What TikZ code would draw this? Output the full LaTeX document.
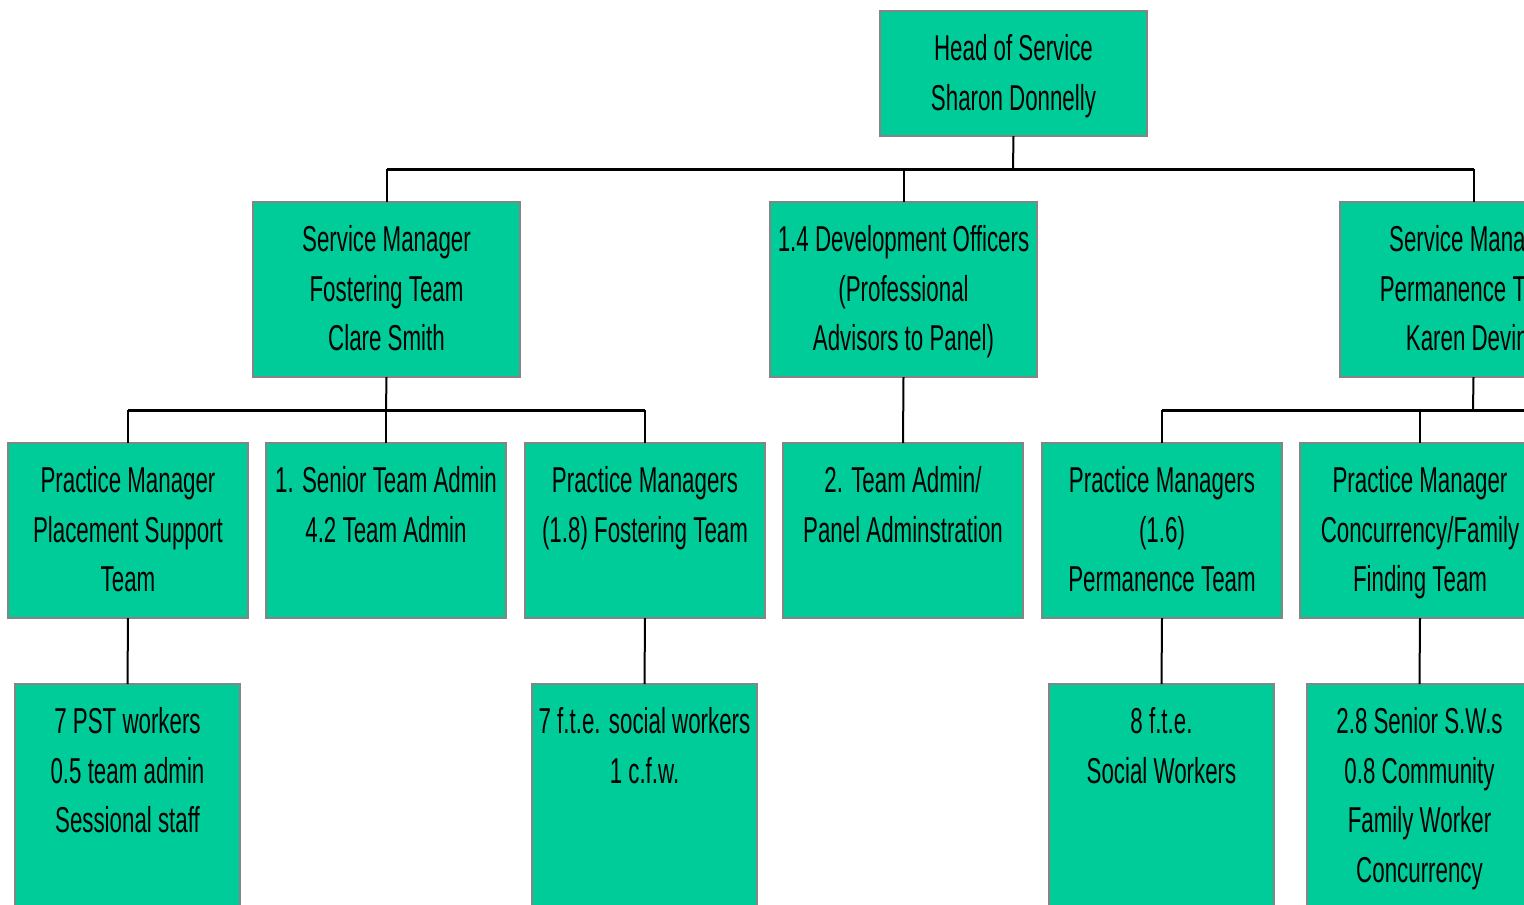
\documentclass[tikz,border=0pt]{standalone}
\usepackage{fontspec}
\setmainfont{Liberation Sans}[FakeStretch=0.62]
\definecolor{boxfill}{HTML}{00CC99}
\definecolor{boxline}{HTML}{858585}
\newcommand{\fst}{\rule{0pt}{28pt}}
\begin{document}
\begin{tikzpicture}[x=1pt,y=-1pt,
  orgbox/.style={draw=boxline, line width=2.5pt, fill=boxfill, inner sep=0pt, outer sep=0pt, anchor=north west},
  lbl/.style={anchor=north, inner sep=0pt, align=center, font=\fontsize{36}{49.5}\selectfont},
  conn/.style={line width=2pt, black},
  bus/.style={line width=3pt, black}]
\useasboundingbox (0,0) rectangle (1524,905);
\clip (0,0) rectangle (1524,905);
% boxes
\node[orgbox, minimum width=267pt, minimum height=125pt] (head) at (880,11) {};
\node[orgbox, minimum width=267pt, minimum height=175pt] (sm1) at (253,202) {};
\node[orgbox, minimum width=267pt, minimum height=175pt] (dev) at (770,202) {};
\node[orgbox, minimum width=267pt, minimum height=175pt] (sm2) at (1340,202) {};
\node[orgbox, minimum width=240pt, minimum height=175pt] (pm1) at (8,443) {};
\node[orgbox, minimum width=240pt, minimum height=175pt] (sta) at (266,443) {};
\node[orgbox, minimum width=240pt, minimum height=175pt] (pm2) at (525,443) {};
\node[orgbox, minimum width=240pt, minimum height=175pt] (ta) at (783,443) {};
\node[orgbox, minimum width=240pt, minimum height=175pt] (pm3) at (1042,443) {};
\node[orgbox, minimum width=240pt, minimum height=175pt] (pm4) at (1300,443) {};
\node[orgbox, minimum width=225pt, minimum height=260pt] (w1) at (15,684) {};
\node[orgbox, minimum width=225pt, minimum height=260pt] (w2) at (532,684) {};
\node[orgbox, minimum width=225pt, minimum height=260pt] (w3) at (1049,684) {};
\node[orgbox, minimum width=225pt, minimum height=260pt] (w4) at (1307,684) {};
% texts
\node[lbl] (headt) at ([yshift=-21.5pt]head.north) {\fst Head of Service\\Sharon Donnelly};
\node[lbl] (sm1t) at ([yshift=-21.5pt]sm1.north) {\fst Service Manager\\Fostering Team\\Clare Smith};
\node[lbl] (devt) at ([yshift=-21.5pt]dev.north) {\fst 1.4 Development Officers\\(Professional\\Advisors to Panel)};
\node[lbl] (sm2t) at ([yshift=-21.5pt]sm2.north) {\fst Service Manager\\Permanence Team\\Karen Devine};
\node[lbl] (pm1t) at ([yshift=-21.5pt]pm1.north) {\fst Practice Manager\\Placement Support\\Team};
\node[lbl] (stat) at ([yshift=-21.5pt]sta.north) {\fst 1. Senior Team Admin\\4.2 Team Admin};
\node[lbl] (pm2t) at ([yshift=-21.5pt]pm2.north) {\fst Practice Managers\\(1.8) Fostering Team};
\node[lbl] (tat) at ([yshift=-21.5pt]ta.north) {\fst 2. Team Admin/\\Panel Adminstration};
\node[lbl] (pm3t) at ([yshift=-21.5pt]pm3.north) {\fst Practice Managers\\(1.6)\\Permanence Team};
\node[lbl] (pm4t) at ([yshift=-21.5pt]pm4.north) {\fst Practice Manager\\Concurrency/Family\\Finding Team};
\node[lbl] (w1t) at ([yshift=-21.5pt]w1.north) {\fst 7 PST workers\\0.5 team admin\\Sessional staff};
\node[lbl] (w2t) at ([yshift=-21.5pt]w2.north) {\fst 7 f.t.e. social workers\\1 c.f.w.};
\node[lbl] (w3t) at ([yshift=-21.5pt]w3.north) {\fst 8 f.t.e.\\Social Workers};
\node[lbl] (w4t) at ([yshift=-21.5pt]w4.north) {\fst 2.8 Senior S.W.s\\0.8 Community\\Family Worker\\Concurrency};
% connectors
\coordinate (b1) at (1013,169);
\coordinate (b2) at (386,410);
\coordinate (b3) at (1473,410);
\coordinate (b3e) at (1600,410);
\draw[conn] (head.south) -- (b1);
\draw[bus] (sm1.north |- b1) -- (sm2.north |- b1);
\draw[conn] (sm1.north) -- (sm1.north |- b1);
\draw[conn] (dev.north) -- (dev.north |- b1);
\draw[conn] (sm2.north) -- (sm2.north |- b1);
\draw[conn] (sm1.south) -- (b2);
\draw[bus] (pm1.north |- b2) -- (pm2.north |- b2);
\draw[conn] (pm1.north) -- (pm1.north |- b2);
\draw[conn] (sta.north) -- (sta.north |- b2);
\draw[conn] (pm2.north) -- (pm2.north |- b2);
\draw[conn] (dev.south) -- (ta.north);
\draw[conn] (sm2.south) -- (b3);
\draw[bus] (pm3.north |- b3) -- (b3e);
\draw[conn] (pm3.north) -- (pm3.north |- b3);
\draw[conn] (pm4.north) -- (pm4.north |- b3);
\draw[conn] (pm1.south) -- (w1.north);
\draw[conn] (pm2.south) -- (w2.north);
\draw[conn] (pm3.south) -- (w3.north);
\draw[conn] (pm4.south) -- (w4.north);
\end{tikzpicture}
\end{document}
